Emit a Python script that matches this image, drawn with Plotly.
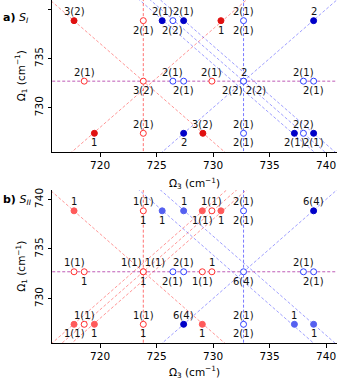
import plotly.graph_objects as go

# rows of the grid (Omega_1) and the two fundamentals
row_hi, row_mid, row_lo = 738.85, 732.7, 727.4
nu_red = 723.83
nu_blue = 732.7

# panel a) S_I points
a_x = [717.7, 723.83, 725.5, 726.45, 727.4, 730.7, 732.7, 738.9,
       718.6, 723.83, 726.45, 727.4, 729.9, 732.7, 732.7, 738.0, 738.9,
       719.5, 723.83, 727.4, 729.1, 732.7, 737.2, 738.0, 738.9]
a_y = [row_hi] * 8 + [row_mid] * 9 + [row_lo] * 8
a_kind = ['R', 'o', 'B', 'O', 'B', 'R', 'O', 'B',
          'o', 'o', 'O', 'O', 'o', 'b', 'O', 'O', 'O',
          'R', 'o', 'B', 'R', 'O', 'B', 'O', 'B']
a_top = ['3(2)', '', '2(1)', '', '2(1)', '', '2(1)', '2',
         '2(1)', '', '2(1)', '', '2(1)', '2', '', '2(1)', '',
         '', '2(1)', '', '3(2)', '2(1)', '', '2(2)', '']
a_bot = ['', '2(1)', '', '2(2)', '', '1', '2(1)', '',
         '', '3(2)', '', '2(1)', '', '2(2) 2(2)', '', '', '2(1)',
         '1', '', '2', '', '2(1)', '2(1)', '', '2(1)']

# panel b) S_II points
b_x = [717.7, 723.83, 725.5, 727.4, 729.05, 729.9, 730.7, 732.7, 738.9,
       717.7, 718.6, 723.83, 723.83, 726.45, 727.4, 729.05, 729.9, 732.7, 738.0, 738.9,
       717.7, 718.6, 719.5, 723.83, 727.4, 729.05, 732.7, 737.2, 738.9]
b_y = [row_hi] * 9 + [row_mid] * 11 + [row_lo] * 9
b_kind = ['r', 'o', 'b', 'b', 'r', 'o', 'r', 'O', 'B',
          'o', 'o', 'r', 'o', 'O', 'O', 'o', 'o', 'O', 'O', 'O',
          'r', 'o', 'r', 'o', 'B', 'r', 'O', 'b', 'b']
b_top = ['1', '1(1)', '', '1', '', '1(1)', '', '2(1)', '6(4)',
         '1(1)', '', '1(1) 1(1)', '', '', '2(1)', '', '1', '', '2(1)', '',
         '', '1(1)', '', '1(1)', '6(4)', '', '2(1)', '1', '']
b_bot = ['', '1', '1', '', '1(1)', '', '1', '2(1)', '',
         '', '1', '1', '', '2(1)', '', '1(1)', '', '6(4)', '', '2(1)',
         '1(1)', '', '1', '1', '', '1', '2(1)', '', '1']

# diagonal guide lines: Omega1 = Omega3 + c (up) and Omega1 = c - Omega3 (down)
a_red_up = [8.0]
a_red_down = [1456.53]
a_blue_up = [0.0]
a_blue_down = [1464.45, 1465.4, 1466.3]
b_red_up = [8.0, 8.87, 9.75]
b_red_down = [1456.53]
b_blue_up = [0.0]
b_blue_down = [1464.4, 1466.3]

RED_LINE = 'rgba(255,40,40,0.55)'
BLUE_LINE = 'rgba(60,60,255,0.55)'
styles = {
    'R': dict(color='#e01010', line=dict(color='#e01010', width=1)),
    'r': dict(color='#ff5a5a', line=dict(color='#ff5a5a', width=1)),
    'o': dict(color='white', line=dict(color='#ff3030', width=1)),
    'B': dict(color='#0000c8', line=dict(color='#0000c8', width=1)),
    'b': dict(color='#5560f0', line=dict(color='#5560f0', width=1)),
    'O': dict(color='white', line=dict(color='#3040ff', width=1)),
}

fig = go.Figure()
X0, X1 = 714, 742


def add_line(xs, ys, color, xa, ya):
    fig.add_trace(go.Scatter(x=xs, y=ys, mode='lines', xaxis=xa, yaxis=ya,
                             line=dict(color=color, width=0.9, dash='3px,2px'),
                             hoverinfo='skip', showlegend=False))


def panel(xa, ya, red_up, red_down, blue_up, blue_down, px, py, kind, top, bot):
    for c in red_up:
        add_line([X0, X1], [X0 + c, X1 + c], RED_LINE, xa, ya)
    for c in red_down:
        add_line([X0, X1], [c - X0, c - X1], RED_LINE, xa, ya)
    for c in blue_up:
        add_line([X0, X1], [X0 + c, X1 + c], BLUE_LINE, xa, ya)
    for c in blue_down:
        add_line([X0, X1], [c - X0, c - X1], BLUE_LINE, xa, ya)
    add_line([nu_red, nu_red], [720, 745], 'rgba(255,60,60,0.8)', xa, ya)
    add_line([nu_blue, nu_blue], [720, 745], 'rgba(70,70,255,0.8)', xa, ya)
    add_line([X0, X1], [row_mid, row_mid], 'rgba(170,40,160,0.85)', xa, ya)
    for k, st in styles.items():
        idx = [i for i, kk in enumerate(kind) if kk == k]
        if not idx:
            continue
        fig.add_trace(go.Scatter(
            x=[px[i] for i in idx], y=[py[i] for i in idx], mode='markers',
            xaxis=xa, yaxis=ya, showlegend=False,
            marker=dict(symbol='circle', size=6, color=st['color'], line=st['line'])))
    xr = 'x' if xa == 'x' else 'x2'
    yr = 'y' if ya == 'y' else 'y2'
    for i in range(len(px)):
        for txt, sh in ((top[i], 9), (bot[i], -9.5)):
            if txt:
                fig.add_annotation(x=px[i], y=py[i], xref=xr, yref=yr, text=txt,
                                   showarrow=False, yshift=sh,
                                   font=dict(size=10, color='#111'))


panel('x', 'y', a_red_up, a_red_down, a_blue_up, a_blue_down, a_x, a_y, a_kind, a_top, a_bot)
panel('x2', 'y2', b_red_up, b_red_down, b_blue_up, b_blue_down, b_x, b_y, b_kind, b_top, b_bot)

axis_common = dict(showline=True, linecolor='black', linewidth=1, ticks='outside',
                   ticklen=3.5, tickwidth=0.8, tickcolor='black', showgrid=False,
                   zeroline=False, mirror=False, automargin=False,
                   tickfont=dict(size=10.5, color='black'))
xt = dict(axis_common, range=[715.75, 740.97], tickvals=[720, 725, 730, 735, 740],
          title=dict(text='Ω<sub>3</sub> (cm<sup>−1</sup>)', font=dict(size=10.5), standoff=9))
yt = dict(axis_common, range=[725.5, 740.95], tickvals=[730, 735, 740], tickangle=-90)

fig.update_layout(
    width=337, height=380,
    margin=dict(l=52, r=0, t=0, b=0),
    paper_bgcolor='white', plot_bgcolor='white',
    font=dict(family='DejaVu Sans', color='black'),
    xaxis=dict(xt, domain=[0, 1], anchor='y'),
    yaxis=dict(yt, domain=[0.6, 1], anchor='x'),
    xaxis2=dict(xt, domain=[0, 1], anchor='y2'),
    yaxis2=dict(yt, domain=[0.097, 0.5], anchor='x2'),
)

# y titles placed by hand (rotated tick labels confuse the auto offset)
for yc in (0.8, 0.2985):
    fig.add_annotation(xref='paper', yref='paper', x=-0.108, y=yc, textangle=-90,
                       xanchor='center', yanchor='middle',
                       text='Ω<sub>1</sub> (cm<sup>−1</sup>)', showarrow=False,
                       font=dict(size=10.5))

fig.add_annotation(xref='paper', yref='paper', x=-0.178, y=0.977, xanchor='left',
                   text='<b>a)</b> <i>S</i><sub><i>I</i></sub>', showarrow=False,
                   font=dict(size=11))
fig.add_annotation(xref='paper', yref='paper', x=-0.178, y=0.474, xanchor='left',
                   text='<b>b)</b> <i>S</i><sub><i>II</i></sub>', showarrow=False,
                   font=dict(size=11))

fig.write_html("out.html", config={'displayModeBar': False},
               post_script="document.body.style.margin='0';")
